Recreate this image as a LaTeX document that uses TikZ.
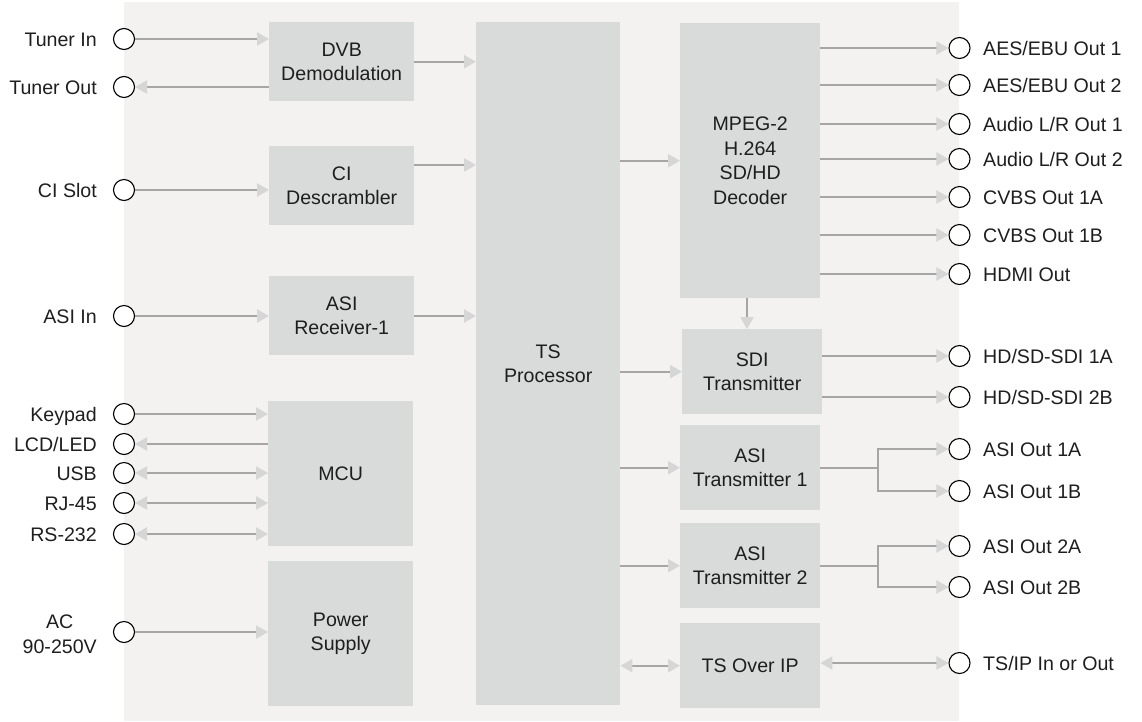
\documentclass[tikz,border=0pt]{standalone}
\usepackage{fontspec}
\setmainfont{Liberation Sans}
\usetikzlibrary{arrows.meta,calc}
\definecolor{bgc}{HTML}{F3F2F1}
\definecolor{boxc}{HTML}{D9DADA}
\definecolor{linec}{HTML}{A6A6A6}
\definecolor{tipc}{HTML}{D6D6D6}
\definecolor{txtc}{HTML}{1E1E1E}
\begin{document}
\begin{tikzpicture}[x=1pt,y=-1pt,
  font=\fontsize{19.6}{24.5}\selectfont,
  blk/.style={fill=boxc, draw=none, align=center, anchor=north west, inner sep=0pt, text=txtc},
  port/.style={circle, draw=black, fill=white, line width=1.1pt, minimum size=21pt, inner sep=0pt},
  lblL/.style={anchor=east, inner sep=0pt, text height=14pt, text depth=0pt, text=txtc},
  lblR/.style={anchor=west, inner sep=0pt, text height=14pt, text depth=0pt, text=txtc},
  ln/.style={draw=linec, line width=2.4pt},
  arr/.style={ln, -{Triangle[length=12pt,width=13pt,color=tipc]}},
  biarr/.style={ln, {Triangle[length=12pt,width=13pt,color=tipc]}-{Triangle[length=12pt,width=13pt,color=tipc]}}
]
\useasboundingbox (0,0) rectangle (1142,721);
\fill[bgc] (124,2) rectangle (959,721);

% blocks
\node[blk, minimum width=145pt, minimum height=79pt] (dvb) at (269,22) {DVB\\Demodulation};
\node[blk, minimum width=145pt, minimum height=79pt] (ci) at (269,146) {CI\\Descrambler};
\node[blk, minimum width=145pt, minimum height=79pt] (asirx) at (269,276) {ASI\\Receiver-1};
\node[blk, minimum width=145pt, minimum height=145pt] (mcu) at (268,401) {MCU};
\node[blk, minimum width=145pt, minimum height=145pt] (psu) at (268,561) {Power\\Supply};
\node[blk, minimum width=144pt, minimum height=683pt] (ts) at (476,22) {TS\\Processor};
\node[blk, minimum width=140pt, minimum height=275pt] (dec) at (680,23) {MPEG-2\\H.264\\SD/HD\\Decoder};
\node[blk, minimum width=140pt, minimum height=85pt] (sdi) at (682,329) {SDI\\Transmitter};
\node[blk, minimum width=140pt, minimum height=85pt] (asi1) at (680,425) {ASI\\Transmitter 1};
\node[blk, minimum width=140pt, minimum height=85pt] (asi2) at (680,523) {ASI\\Transmitter 2};
\node[blk, minimum width=140pt, minimum height=85pt] (tsip) at (680,623) {TS Over IP};

% left ports
\node[port] (pTin) at (124,39) {};
\node[port] (pTout) at (124,87) {};
\node[port] (pCI) at (124,190) {};
\node[port] (pASI) at (124,316) {};
\node[port] (pKey) at (124,414) {};
\node[port] (pLCD) at (124,444) {};
\node[port] (pUSB) at (124,473) {};
\node[port] (pRJ) at (124,503) {};
\node[port] (pRS) at (124,534) {};
\node[port] (pAC) at (124,632) {};

\node[lblL] (lTin) at (97,39) {Tuner In};
\node[lblL] (lTout) at (97,87) {Tuner Out};
\node[lblL] (lCI) at (97,190) {CI Slot};
\node[lblL] (lASI) at (97,316) {ASI In};
\node[lblL] (lKey) at (97,414) {Keypad};
\node[lblL] (lLCD) at (97,444) {LCD/LED};
\node[lblL] (lUSB) at (97,473) {USB};
\node[lblL] (lRJ) at (97,503) {RJ-45};
\node[lblL] (lRS) at (97,534) {RS-232};
\node[anchor=east, inner sep=0pt, align=center, text=txtc] (lAC) at (97,634) {AC\\90-250V};

% right ports
\foreach \n/\y/\t in {pAES1/48/AES\slash EBU Out 1, pAES2/85/AES\slash EBU Out 2,
  pAud1/124/Audio L\slash R Out 1, pAud2/159/Audio L\slash R Out 2,
  pCV1/197/CVBS Out 1A, pCV2/235/CVBS Out 1B, pHDMI/274/HDMI Out,
  pSDI1/356/HD\slash SD-SDI 1A, pSDI2/397/HD\slash SD-SDI 2B,
  pA1A/449/ASI Out 1A, pA1B/491/ASI Out 1B, pA2A/546/ASI Out 2A, pA2B/587/ASI Out 2B,
  pIP/663/TS\slash IP In or Out}{
  \node[port] (\n) at (959.5,\y) {};
  \node[lblR] (l\n) at (983,\y) {\t};
}

\coordinate (jx) at (878,0);

% connectors
\draw[arr] (pTin.east) -- (pTin -| dvb.west);
\draw[arr] (dvb.east) -- (dvb.east -| ts.west);
\draw[arr] (dvb.west |- pTout) -- (pTout.east);
\draw[arr] (pCI.east) -- (pCI -| ci.west);
\draw[arr] (ci.east |- 0,165) -- (ts.west |- 0,165);
\draw[arr] (pASI.east) -- (pASI -| asirx.west);
\draw[arr] (asirx.east |- pASI) -- (ts.west |- pASI);
\draw[arr] (pKey.east) -- (pKey -| mcu.west);
\draw[arr] (mcu.west |- pLCD) -- (pLCD.east);
\draw[biarr] (pUSB.east) -- (pUSB -| mcu.west);
\draw[biarr] (pRJ.east) -- (pRJ -| mcu.west);
\draw[biarr] (pRS.east) -- (pRS -| mcu.west);
\draw[arr] (pAC.east) -- (pAC -| psu.west);

\draw[arr] (ts.east |- dec.west) -- (dec.west);
\draw[arr] (ts.east |- sdi.west) -- (sdi.west);
\draw[arr] (ts.east |- asi1.west) -- (asi1.west);
\draw[arr] (ts.east |- asi2.west) -- (asi2.west);
\draw[biarr] (ts.east |- tsip.west) -- (tsip.west);
\draw[biarr] (tsip.east |- pIP) -- (pIP.west);

\draw[arr] (dec.south -| 747,0) -- (sdi.north -| 747,0);
\foreach \p in {pAES1,pAES2,pAud1,pAud2,pCV1,pCV2,pHDMI}{
  \draw[arr] (dec.east |- \p) -- (\p.west);
}
\draw[arr] (sdi.east |- pSDI1) -- (pSDI1.west);
\draw[arr] (sdi.east |- pSDI2) -- (pSDI2.west);

\draw[arr] (asi1.east) -| (jx |- pA1A) -- (pA1A.west);
\draw[arr] (asi1.east) -| (jx |- pA1B) -- (pA1B.west);
\draw[arr] (asi2.east) -| (jx |- pA2A) -- (pA2A.west);
\draw[arr] (asi2.east) -| (jx |- pA2B) -- (pA2B.west);
\end{tikzpicture}
\end{document}
